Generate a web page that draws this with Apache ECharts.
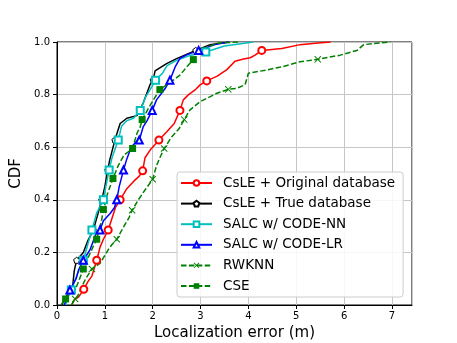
<!DOCTYPE html>
<html>
<head>
<meta charset="utf-8">
<script src="https://cdn.jsdelivr.net/npm/echarts@6/dist/echarts.min.js"></script>
<style>
  html, body { margin: 0; padding: 0; background: #fff; }
  #chart { width: 457px; height: 343px; }
</style>
</head>
<body>
<div id="chart"></div>
<script>
// CDF of localization error
const names = [
  'CsLE + Original database',
  'CsLE + True database',
  'SALC w/ CODE-NN',
  'SALC w/ CODE-LR',
  'RWKNN',
  'CSE'
]

const origX = [0.31,0.36,0.45,0.56,0.65,0.73,0.83,0.90,0.97,1.07,1.15,1.22,1.32,1.45,1.60,1.72,1.79,1.84,1.95,2.05,2.13,2.30,2.45,2.57,2.64,2.75,2.90,2.99,3.13,3.35,3.55,3.72,3.90,4.04,4.14,4.28,4.70,5.08,5.40,5.72]
const origY = [0.00,0.02,0.03,0.06,0.09,0.11,0.17,0.22,0.25,0.285,0.33,0.37,0.40,0.44,0.47,0.49,0.51,0.56,0.59,0.61,0.627,0.66,0.69,0.74,0.78,0.80,0.82,0.837,0.852,0.87,0.895,0.927,0.935,0.94,0.95,0.968,0.975,0.99,0.995,1.0]
const origMarks = [3,6,9,12,16,20,23,28,35]

const trueX = [0.10,0.22,0.32,0.36,0.41,0.55,0.65,0.76,0.86,0.935,1.00,1.06,1.10,1.21,1.25,1.32,1.46,1.67,1.72,1.80,1.95,2.01,2.05,2.29,2.50,2.90,3.20,3.60]
const trueY = [0.00,0.04,0.057,0.13,0.17,0.20,0.247,0.285,0.35,0.40,0.45,0.513,0.55,0.627,0.65,0.69,0.71,0.72,0.74,0.767,0.84,0.856,0.89,0.918,0.937,0.968,0.99,1.0]
const trueMarks = [2,4,7,9,11,13,18,21,25]

const nnX = [0.18,0.22,0.30,0.41,0.50,0.55,0.65,0.73,0.83,0.97,1.02,1.09,1.15,1.28,1.35,1.45,1.60,1.74,1.85,1.95,2.06,2.20,2.30,2.50,2.80,3.11,3.50,4.10]
const nnY = [0.00,0.03,0.057,0.11,0.15,0.17,0.235,0.285,0.35,0.40,0.45,0.513,0.56,0.627,0.68,0.70,0.71,0.74,0.79,0.82,0.855,0.88,0.91,0.93,0.95,0.962,0.985,1.0]
const nnMarks = [2,5,7,9,11,13,17,20,25]

const lrX = [0.15,0.22,0.27,0.40,0.45,0.55,0.69,0.83,0.90,0.97,1.11,1.20,1.25,1.30,1.39,1.45,1.55,1.65,1.72,1.80,1.88,1.99,2.08,2.26,2.36,2.47,2.57,2.70,2.96,3.30,3.60]
const lrY = [0.00,0.03,0.057,0.10,0.133,0.17,0.21,0.278,0.285,0.32,0.348,0.37,0.40,0.45,0.513,0.55,0.60,0.62,0.627,0.677,0.70,0.74,0.78,0.823,0.855,0.905,0.938,0.95,0.968,0.99,1.0]
const lrMarks = [2,5,8,12,14,18,21,24,28]

const rwX = [0.30,0.38,0.45,0.52,0.60,0.73,0.90,1.07,1.15,1.25,1.40,1.50,1.57,1.70,1.85,2.00,2.08,2.15,2.24,2.40,2.55,2.66,2.78,2.99,3.34,3.58,3.76,3.93,4.00,4.39,4.73,5.08,5.45,5.92,6.27,6.41,6.97]
const rwY = [0.00,0.023,0.04,0.07,0.10,0.137,0.158,0.21,0.23,0.25,0.30,0.33,0.36,0.40,0.44,0.478,0.53,0.56,0.595,0.64,0.67,0.705,0.742,0.773,0.805,0.82,0.824,0.837,0.881,0.894,0.907,0.925,0.934,0.95,0.968,0.99,1.0]
const rwMarks = [1,5,9,12,15,18,21,25,32]

const cseX = [0.08,0.18,0.30,0.41,0.55,0.65,0.75,0.83,0.93,0.97,1.05,1.17,1.28,1.40,1.58,1.67,1.74,1.78,1.95,2.05,2.15,2.43,2.57,2.71,2.85,2.99,3.34,3.80]
const cseY = [0.00,0.023,0.05,0.07,0.137,0.18,0.22,0.25,0.32,0.363,0.42,0.481,0.53,0.57,0.595,0.652,0.677,0.705,0.76,0.79,0.819,0.855,0.874,0.905,0.933,0.97,0.995,1.0]
const cseMarks = [1,4,7,9,11,14,17,20,24]

const yTicks = [0, 0.2, 0.4, 0.6, 0.8, 1.0]

const pentagon = 'path://M5,0 L10,3.6 L8.1,9.5 L1.9,9.5 L0,3.6 Z'
const cross = 'path://M0,1 L1,0 L5,4 L9,0 L10,1 L6,5 L10,9 L9,10 L5,6 L1,10 L0,9 L4,5 Z'

const toData = (xs, ys, marks) => xs.map((x, i) => {
  const d = { value: [x, ys[i]] }
  if (!marks.includes(i)) d.symbol = 'none'
  return d
})

const makeSeries = (name, xs, ys, marks, color, symbol, size, opts = {}) => ({
  name,
  type: 'line',
  data: toData(xs, ys, marks),
  symbol,
  symbolSize: size,
  showSymbol: true,
  showAllSymbol: true,
  lineStyle: { color, width: 1.5, type: opts.dashed ? [5.5, 2.4] : 'solid' },
  itemStyle: {
    color: opts.fill || color,
    borderColor: color,
    borderWidth: opts.border == null ? 1 : opts.border
  },
  emphasis: { disabled: true },
  animation: false
})

const chart = echarts.init(document.getElementById('chart'))

chart.setOption({
  animation: false,
  textStyle: { fontFamily: 'DejaVu Sans' },
  grid: {
    left: 57,
    right: 45,
    top: 42,
    bottom: 38,
    outerBoundsMode: 'none',
    containLabel: false,
    show: true,
    borderColor: '#000',
    borderWidth: 1
  },
  legend: {
    orient: 'vertical',
    left: 177,
    top: 172,
    padding: [4, 8, 4, 3],
    itemWidth: 31,
    itemHeight: 7,
    itemGap: 6.6,
    backgroundColor: 'rgba(255,255,255,0.85)',
    borderColor: '#cccccc',
    borderWidth: 1,
    borderRadius: 3,
    textStyle: { fontSize: 13.5, color: '#000', fontFamily: 'DejaVu Sans', padding: [0, 0, 0, 6] },
    data: names
  },
  xAxis: {
    type: 'value',
    min: 0,
    max: 7.42,
    interval: 1,
    name: 'Localization error (m)',
    nameLocation: 'middle',
    nameGap: 21,
    nameTextStyle: { fontSize: 15, color: '#000' },
    axisLine: { lineStyle: { color: '#000', width: 1 } },
    axisTick: { show: true, inside: false, length: 4, lineStyle: { color: '#000' } },
    axisLabel: { fontSize: 10, color: '#000', margin: 6, showMaxLabel: false },
    splitLine: { show: true, lineStyle: { color: '#c6c6c6', width: 1 } }
  },
  yAxis: {
    type: 'value',
    min: 0,
    max: 1,
    interval: 0.2,
    name: 'CDF',
    nameLocation: 'middle',
    nameGap: 24,
    nameTextStyle: { fontSize: 15, color: '#000' },
    axisLine: { show: true, lineStyle: { color: '#000', width: 1 } },
    axisTick: { show: true, inside: false, length: 4, lineStyle: { color: '#000' } },
    axisLabel: {
      fontSize: 10,
      color: '#000',
      margin: 7,
      formatter: v => yTicks.some(t => Math.abs(t - v) < 1e-9) ? v.toFixed(1) : ''
    },
    splitLine: { show: true, lineStyle: { color: '#c6c6c6', width: 1 } }
  },
  series: [
    makeSeries(names[0], origX, origY, origMarks, '#ff0000', 'emptyCircle', 7),
    makeSeries(names[1], trueX, trueY, trueMarks, '#000000', pentagon, 6, { fill: '#ffffff' }),
    makeSeries(names[2], nnX, nnY, nnMarks, '#00bfbf', 'emptyRect', 7),
    makeSeries(names[3], lrX, lrY, lrMarks, '#0000ff', 'emptyTriangle', 7),
    makeSeries(names[4], rwX, rwY, rwMarks, '#008000', cross, 7, { dashed: true, border: 0 }),
    makeSeries(names[5], cseX, cseY, cseMarks, '#008000', 'rect', 7, { dashed: true, border: 0 })
  ]
})

window.addEventListener('resize', () => chart.resize())
</script>
</body>
</html>
